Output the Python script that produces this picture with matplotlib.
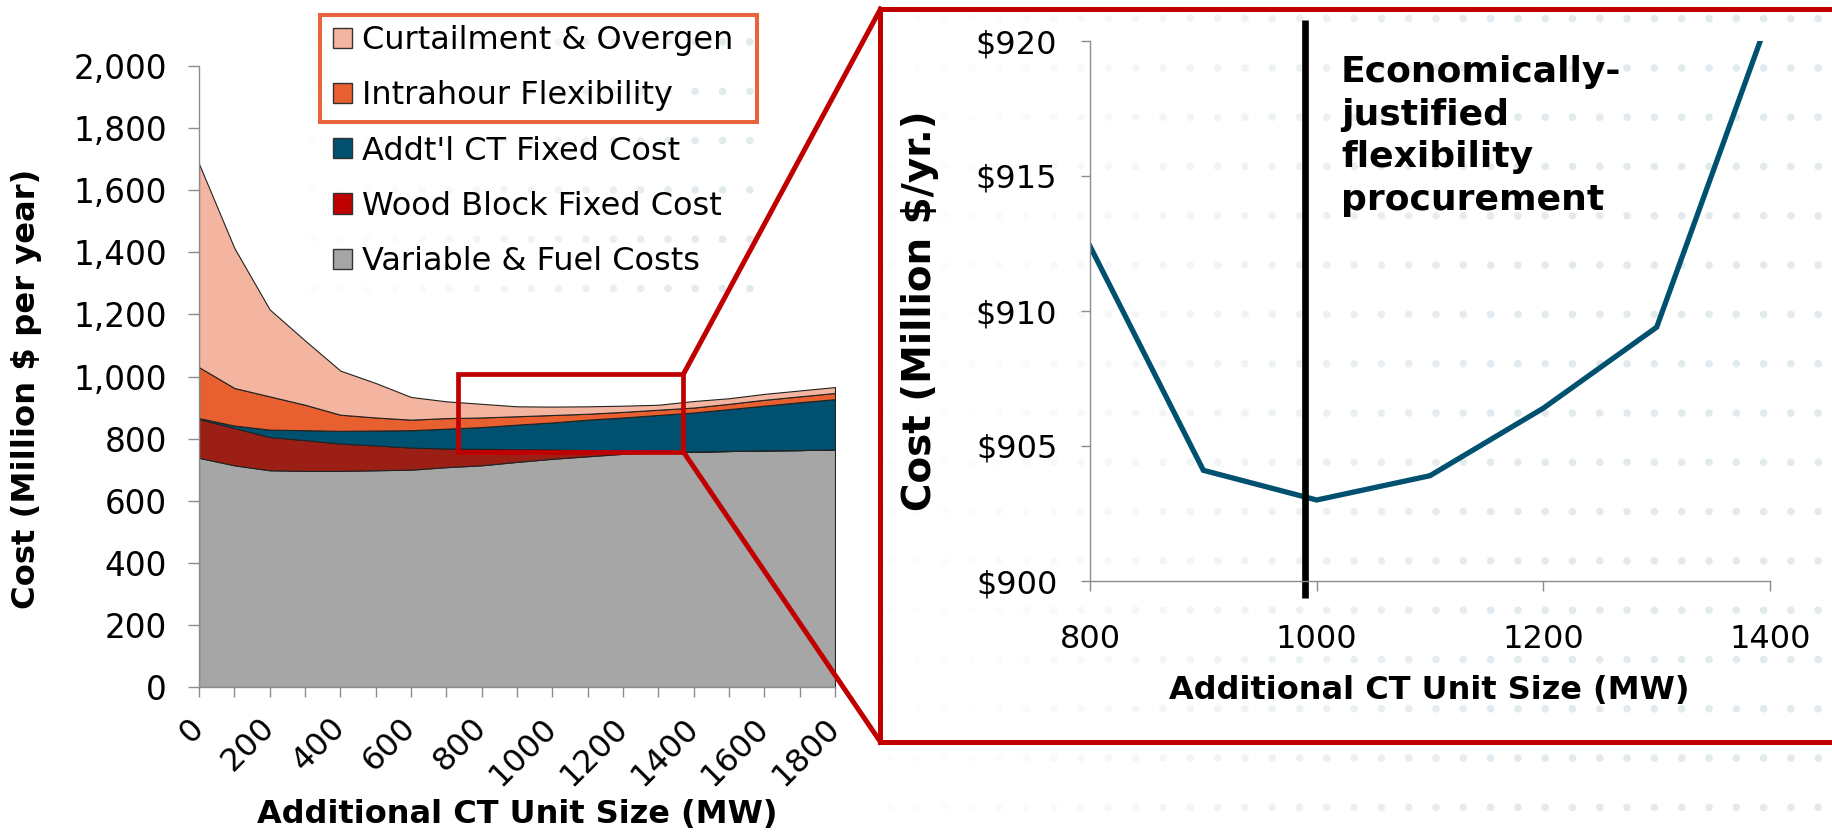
import numpy as np
import matplotlib.pyplot as plt
from matplotlib.patches import Patch, Rectangle
from matplotlib.ticker import MultipleLocator, FuncFormatter

plt.rcParams['font.family'] = ['DejaVu Sans']

# Left chart: stacked cost components (million $ per year) by added CT size
mw = [0, 100, 200, 300, 400, 500, 600, 700, 800, 900,
      1000, 1100, 1200, 1300, 1400, 1500, 1600, 1700, 1800]
variable_fuel = [738, 714, 698, 696, 696, 698, 700, 708, 714, 725,
                 735, 743, 751, 756, 758, 760, 762, 763, 765]
wood_block = [125, 120, 107, 99, 88, 80, 71, 60, 53, 41,
              30, 20, 10, 3, 0, 0, 0, 0, 0]
addtl_ct = [3, 8, 24, 32, 41, 48, 56, 64, 70, 79,
            87, 98, 107, 117, 126, 135, 144, 154, 162]
intrahour = [164, 121, 107, 82, 52, 42, 34, 34, 31, 27,
             24, 19, 18, 17, 16, 17, 19, 19, 20]
curtailment = [655, 451, 280, 207, 142, 111, 73, 54, 44, 32,
               27, 24, 20, 16, 21, 18, 19, 19, 19]

series_labels = ['Curtailment & Overgen', 'Intrahour Flexibility',
                 "Addt'l CT Fixed Cost", 'Wood Block Fixed Cost',
                 'Variable & Fuel Costs']

# Right chart: total cost in the zoomed range
zoom_mw = [800, 900, 1000, 1100, 1200, 1300, 1400]
zoom_cost = [912.4, 904.1, 903.0, 903.9, 906.4, 909.4, 921.0]
optimum_mw = 990
note = 'Economically-\njustified\nflexibility\nprocurement'

# colours
c_gray = '#A6A6A6'
c_wood = '#9C1F16'
c_wood_leg = '#C00000'
c_teal = '#00506F'
c_intra = '#E8602F'
c_curt = '#F4B5A0'
c_red = '#C00000'
c_orange = '#E8643A'
c_axis = '#8C8C8C'

W, H = 1833, 835
fig = plt.figure(figsize=(W / 100, H / 100), dpi=100)

# background layer in pixel coordinates (slide dot pattern)
bg = fig.add_axes([0, 0, 1, 1], zorder=0)
bg.set_xlim(0, W)
bg.set_ylim(H, 0)
bg.axis('off')


def dot_grid(x0, x1, y0, y1, dx, dy, fade_to):
    xs = np.arange(x0, x1, dx)
    ys = np.arange(y0, y1, dy)
    gx, gy = np.meshgrid(xs, ys)
    strength = np.clip((gx - x0) / (fade_to - x0), 0.15, 1.0).ravel()
    cols = np.ones((gx.size, 4))
    cols[:, 0] = 1 - strength * (1 - 0.89)
    cols[:, 1] = 1 - strength * (1 - 0.918)
    cols[:, 2] = 1 - strength * (1 - 0.935)
    bg.scatter(gx.ravel(), gy.ravel(), s=30, c=cols, linewidths=0)


dot_grid(313, 760, 42, 300, 27.3, 49.3, 700)
dot_grid(890, W + 10, 18.6, H, 27.3, 49.3, 1500)

# ---- left chart ----
ax = fig.add_axes([199 / W, 1 - 687 / H, 636 / W, 621 / H], zorder=1)
ax.patch.set_alpha(0)
ax.stackplot(mw, variable_fuel, wood_block, addtl_ct, intrahour, curtailment,
             colors=[c_gray, c_wood, c_teal, c_intra, c_curt],
             edgecolor='#222222', linewidth=0.8)
ax.set_xlim(0, 1800)
ax.set_ylim(0, 2000)
ax.yaxis.set_major_locator(MultipleLocator(200))
ax.yaxis.set_major_formatter(FuncFormatter(lambda v, p: f'{v:,.0f}'))
ax.xaxis.set_major_locator(MultipleLocator(200))
ax.xaxis.set_minor_locator(MultipleLocator(100))
for s in ['top', 'right']:
    ax.spines[s].set_visible(False)
for s in ['left', 'bottom']:
    ax.spines[s].set_color(c_axis)
    ax.spines[s].set_linewidth(1.0)
ax.tick_params(axis='y', length=8, width=1, color=c_axis, pad=15, labelsize=23.5)
ax.tick_params(axis='x', which='both', length=7, width=1, color=c_axis,
               pad=19, labelsize=23)
for lbl in ax.get_xticklabels():
    lbl.set_rotation(45)
    lbl.set_ha('right')
    lbl.set_va('center')
    lbl.set_rotation_mode('anchor')
ax.set_ylabel('Cost (Million $ per year)', fontsize=23.2, fontweight='bold',
              va='center')
ax.yaxis.set_label_coords(-0.271, 0.48)
ax.set_xlabel('Additional CT Unit Size (MW)', fontsize=23, fontweight='bold',
              va='center')
ax.xaxis.set_label_coords(0.50, -0.206)

leg_colors = [c_curt, c_intra, c_teal, c_wood_leg, c_gray]
handles = [Patch(facecolor=c, edgecolor='#333333', linewidth=1.0, label=l)
           for c, l in zip(leg_colors, series_labels)]
fig.legend(handles=handles, loc='upper left',
           bbox_to_anchor=(333 / W, 1 - 25 / H), frameon=False, fontsize=23,
           handlelength=0.6, handleheight=0.6, handletextpad=0.3,
           labelspacing=0.76, borderpad=0, borderaxespad=0)

# ---- right chart ----
ax2 = fig.add_axes([1090 / W, 1 - 581 / H, 680 / W, 540 / H], zorder=1)
ax2.patch.set_alpha(0)
ax2.plot(zoom_mw, zoom_cost, color=c_teal, lw=3.8, solid_joinstyle='miter')
ax2.axvline(optimum_mw, ymin=-0.032, ymax=1.039, color='black', lw=4.8,
            clip_on=False, solid_capstyle='butt')
ax2.set_xlim(800, 1400)
ax2.set_ylim(900, 920)
ax2.xaxis.set_major_locator(MultipleLocator(200))
ax2.yaxis.set_major_locator(MultipleLocator(5))
ax2.yaxis.set_major_formatter(FuncFormatter(lambda v, p: f'${v:.0f}'))
for s in ['top', 'right']:
    ax2.spines[s].set_visible(False)
for s in ['left', 'bottom']:
    ax2.spines[s].set_color(c_axis)
    ax2.spines[s].set_linewidth(1.0)
ax2.tick_params(axis='y', length=6.5, width=1, color=c_axis, pad=17, labelsize=23)
ax2.tick_params(axis='x', length=7, width=1, color=c_axis, pad=24, labelsize=23)
ax2.set_ylabel('Cost (Million $/yr.)', fontsize=28, fontweight='bold',
               va='center')
ax2.yaxis.set_label_coords(-0.25, 0.5)
ax2.set_xlabel('Additional CT Unit Size (MW)', fontsize=23, fontweight='bold',
               va='center')
ax2.xaxis.set_label_coords(0.4985, -0.202)
ax2.text(0.369, 0.974, note, transform=ax2.transAxes, ha='left', va='top',
         fontsize=26, fontweight='bold', linespacing=1.32)

# ---- overlay: zoom box, connectors, frames ----
ov = fig.add_axes([0, 0, 1, 1], zorder=3)
ov.set_xlim(0, W)
ov.set_ylim(H, 0)
ov.axis('off')
ov.add_patch(Rectangle((320, 15), 437, 107, fill=False, edgecolor=c_orange,
                       linewidth=2.9))
ov.add_patch(Rectangle((458, 374), 225.5, 78, fill=False, edgecolor=c_red,
                       linewidth=3.4))
ov.plot([683.5, 880.5], [374, 9], color=c_red, lw=3.6)
ov.plot([683.5, 880.5], [452, 742], color=c_red, lw=3.6)
ov.plot([W + 10, 880.5, 880.5, W + 10], [9, 9, 742, 742], color=c_red, lw=3.6,
        solid_joinstyle='miter')

fig.savefig('out.png', dpi=100)
